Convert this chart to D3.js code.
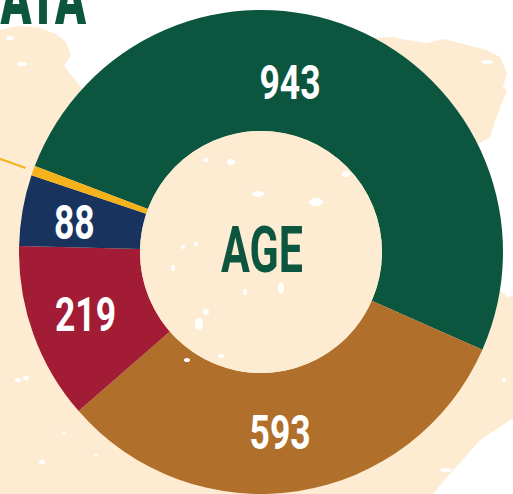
<!DOCTYPE html>
<html>
<head>
<meta charset="utf-8">
<script src="https://cdn.jsdelivr.net/npm/d3@7"></script>
<style>
  body { margin: 0; background: #fff; }
  svg { display: block; }
</style>
</head>
<body>
<div id="chart"></div>
<script>
// age groups
var categories = ["group1", "group2", "group3", "group4", "group5"];
var values = [943, 593, 219, 88, 12];
var valueLabels = ["943", "593", "219", "88", ""];
var colors = ["#0c5640", "#b06f2a", "#a31c36", "#19335f", "#f6b21a"];

var width = 513, height = 494;
var cream = "#fdecd1", green = "#0c5640";

var svg = d3.select("#chart").append("svg")
    .attr("width", width)
    .attr("height", height);

svg.append("rect").attr("width", width).attr("height", height).attr("fill", "#fff");

// rough map blob in the background
svg.append("path")
    .attr("fill", cream)
    .attr("d", "M0,30 L18,26 L40,28 L56,34 L66,42 L71,55 L64,66 L72,76 L82,88 L140,80 L200,60 L260,40 " +
               "L330,40 L393,37 L407,40 L427,43 L443,39 L460,43 L487,50 L500,57 L507,73 L503,87 L507,91 " +
               "L503,100 L493,127 L490,137 L473,147 L470,200 L490,250 L500,290 L507,297 L513,296 " +
               "L513,418 L500,427 L480,440 L460,463 L447,477 L433,494 L0,494 Z");

// a few white specks in the background
var specks = [[10,38,4,2],[22,64,5,2],[56,235,3,2],[18,380,3,2],[26,378,3,2],[64,433,2,2],[42,462,3,2],[96,455,2,1],
              [487,62,6,2],[504,380,2,2],[446,470,6,2]];
svg.selectAll("ellipse.bg").data(specks).enter().append("ellipse")
    .attr("class", "bg")
    .attr("cx", d => d[0]).attr("cy", d => d[1])
    .attr("rx", d => d[2]).attr("ry", d => d[3])
    .attr("fill", "#fff");

// cut-off title (only the tail shows in the crop)
svg.append("text")
    .attr("transform", "translate(86,24) scale(0.6,1)")
    .attr("text-anchor", "end")
    .attr("font-family", "Roboto")
    .attr("font-weight", 900)
    .attr("font-size", 76)
    .attr("fill", green)
    .text("DATA");

var cx = 261, cy = 252;
var outer = 242, inner = 121;
var start = -69.2 * Math.PI / 180;

var pie = d3.pie().sort(null).startAngle(start).endAngle(start + 2 * Math.PI);
var arcs = pie(values);

var arc = d3.arc().innerRadius(inner).outerRadius(outer);

var g = svg.append("g").attr("transform", "translate(" + cx + "," + cy + ")");

g.selectAll("path.slice")
    .data(arcs)
    .enter().append("path")
    .attr("class", "slice")
    .attr("d", arc)
    .attr("fill", (d, i) => colors[i]);

g.append("circle").attr("r", inner).attr("fill", cream);

// white specks inside the hole
var holeSpecks = [[-30,-90,4,3],[-55,-92,3,2],[-3,-58,6,3],[55,-50,7,4],[85,-78,4,3],[-65,-8,2,2],
                  [-78,-5,2,2],[-74,108,3,2],[-40,104,3,2],[-62,72,4,6],[-55,60,3,3],[25,10,5,2],
                  [20,36,3,6],[-16,40,2,3],[-88,16,2,3]];
g.selectAll("ellipse.sp").data(holeSpecks).enter().append("ellipse")
    .attr("class", "sp")
    .attr("cx", d => d[0]).attr("cy", d => d[1])
    .attr("rx", d => d[2]).attr("ry", d => d[3])
    .attr("fill", "#fff");

// labels, nudged a little along the ring
var labelNudge = [-12.6, 2.6, 0.5, -0.9, 0];
var labelRadius = [172, 181, 186, 189, 0];
valueLabels.forEach(function(t, i) {
    if (!t) return;
    var a = (arcs[i].startAngle + arcs[i].endAngle) / 2 + labelNudge[i] * Math.PI / 180;
    var p = d3.arc().innerRadius(labelRadius[i]).outerRadius(labelRadius[i])
        .centroid({startAngle: a, endAngle: a});
    g.append("text")
        .attr("transform", "translate(" + p[0] + "," + (p[1] + 17) + ") scale(0.74,1)")
        .attr("text-anchor", "middle")
        .attr("font-family", "Roboto")
        .attr("font-weight", 700)
        .attr("font-size", 48)
        .attr("fill", "#fff")
        .text(t);
});

// leader line for the small yellow slice
var ya = (arcs[4].startAngle + arcs[4].endAngle) / 2;
var p1 = d3.arc().innerRadius(250).outerRadius(250).centroid({startAngle: ya, endAngle: ya});
var p2 = d3.arc().innerRadius(300).outerRadius(300).centroid({startAngle: ya, endAngle: ya});
g.append("line")
    .attr("x1", p1[0]).attr("y1", p1[1])
    .attr("x2", p2[0]).attr("y2", p2[1])
    .attr("stroke", colors[4])
    .attr("stroke-width", 2);

// centre title
g.append("text")
    .attr("transform", "translate(1,20) scale(0.66,1)")
    .attr("text-anchor", "middle")
    .attr("font-family", "Roboto")
    .attr("font-weight", 700)
    .attr("font-size", 65)
    .attr("fill", green)
    .text("AGE");
</script>
</body>
</html>
